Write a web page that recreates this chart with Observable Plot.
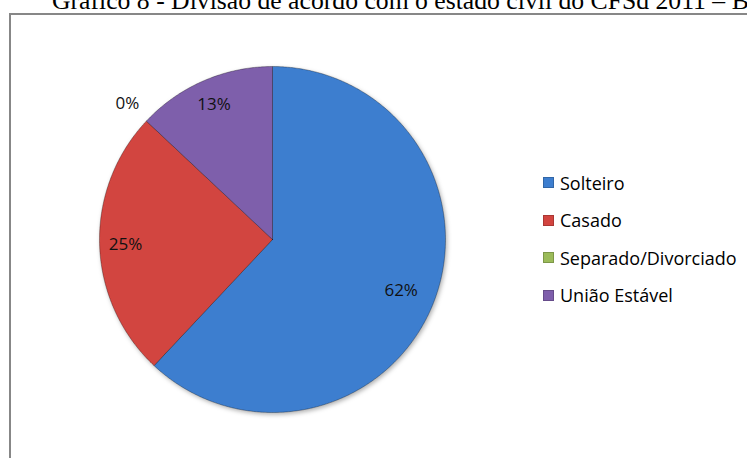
<!DOCTYPE html>
<html>
<head>
<meta charset="utf-8">
<script src="https://cdn.jsdelivr.net/npm/d3@7"></script>
<script src="https://cdn.jsdelivr.net/npm/@observablehq/plot@0.6"></script>
<style>
  html, body { margin: 0; padding: 0; background: #fff; }
  body { position: relative; width: 747px; height: 458px; overflow: hidden; }
  #title { position: absolute; left: 52px; top: -12px; line-height: 1; font-family: "Liberation Serif", "Times New Roman", serif; font-size: 25.7px; white-space: nowrap; color: #000; }
  #frame { position: absolute; left: 9px; top: 13px; width: 800px; height: 520px; border: 2px solid #878787; box-sizing: border-box; }
  #chart { position: absolute; left: 0; top: 0; }
  #legend { position: absolute; left: 543px; top: 164px; font-family: "Open Sans", sans-serif; font-size: 18px; color: #000; }
  .row { display: flex; align-items: center; height: 37.5px; }
  .sw { width: 11px; height: 11px; margin-right: 6px; box-sizing: border-box; }
</style>
</head>
<body>
<div id="title"></div>
<div id="frame"></div>
<div id="chart"></div>
<div id="legend"></div>
<script>
const titleText = "Gráfico 8 - Divisão de acordo com o estado civil do CFSd 2011 – B";
const categories = ["Solteiro", "Casado", "Separado/Divorciado", "União Estável"];
const values = [62, 25, 0, 13];
const labels = ["62%", "25%", "0%", "13%"];
const colors = ["#3D7ECF", "#D2443F", "#9BBB59", "#7E5EAB"];

document.getElementById("title").textContent = titleText;

const W = 747, H = 458, cx = 272, cy = 239, R = 173;
const data = categories.map((c, i) => ({cat: c, value: values[i], label: labels[i]}));
const arcs = d3.pie().sort(null).value(d => d.value)(data);

const pts = [];
arcs.forEach(a => {
  if (a.data.value === 0) return;
  const n = Math.max(2, Math.ceil((a.endAngle - a.startAngle) / (Math.PI / 360)));
  pts.push({cat: a.data.cat, x: 0, y: 0});
  for (let i = 0; i <= n; i++) {
    const t = a.startAngle + (a.endAngle - a.startAngle) * i / n;
    pts.push({cat: a.data.cat, x: Math.sin(t), y: Math.cos(t)});
  }
  pts.push({cat: a.data.cat, x: 0, y: 0});
});

const labs = arcs.map(a => {
  const m = (a.startAngle + a.endAngle) / 2;
  const r = a.data.value > 0 ? (a.data.value > 50 ? 0.8 : 0.85) : 1.15;
  return {x: r * Math.sin(m), y: r * Math.cos(m), text: a.data.label};
});

const plot = Plot.plot({
  width: W, height: H, margin: 0,
  x: {domain: [-cx / R, (W - cx) / R], axis: null},
  y: {domain: [-(H - cy) / R, cy / R], axis: null},
  color: {domain: categories, range: colors},
  style: {background: "transparent", overflow: "visible"},
  marks: [
    Plot.line(pts, {x: "x", y: "y", z: "cat", fill: "cat", stroke: "#000", strokeOpacity: 0.3, strokeWidth: 1, curve: "linear"}),
    Plot.text(labs, {x: "x", y: "y", text: "text", fontSize: 17, fontFamily: "Open Sans", fill: "#111"})
  ]
});
document.getElementById("chart").appendChild(plot);

// soft drop shadow under the pie
const svg = d3.select(plot);
const defs = svg.insert("defs", ":first-child");
const f = defs.append("filter").attr("id", "pieShadow").attr("x", "-10%").attr("y", "-10%").attr("width", "120%").attr("height", "120%");
f.append("feDropShadow").attr("dx", 1.5).attr("dy", 2).attr("stdDeviation", 2).attr("flood-color", "#000").attr("flood-opacity", 0.3);
svg.selectAll("g[aria-label='line']").attr("filter", "url(#pieShadow)");

const leg = d3.select("#legend");
categories.forEach((c, i) => {
  const row = leg.append("div").attr("class", "row");
  row.append("div").attr("class", "sw").style("background", colors[i]).style("border", "1px solid " + d3.color(colors[i]).darker(0.6));
  row.append("span").text(c);
});
</script>
</body>
</html>
